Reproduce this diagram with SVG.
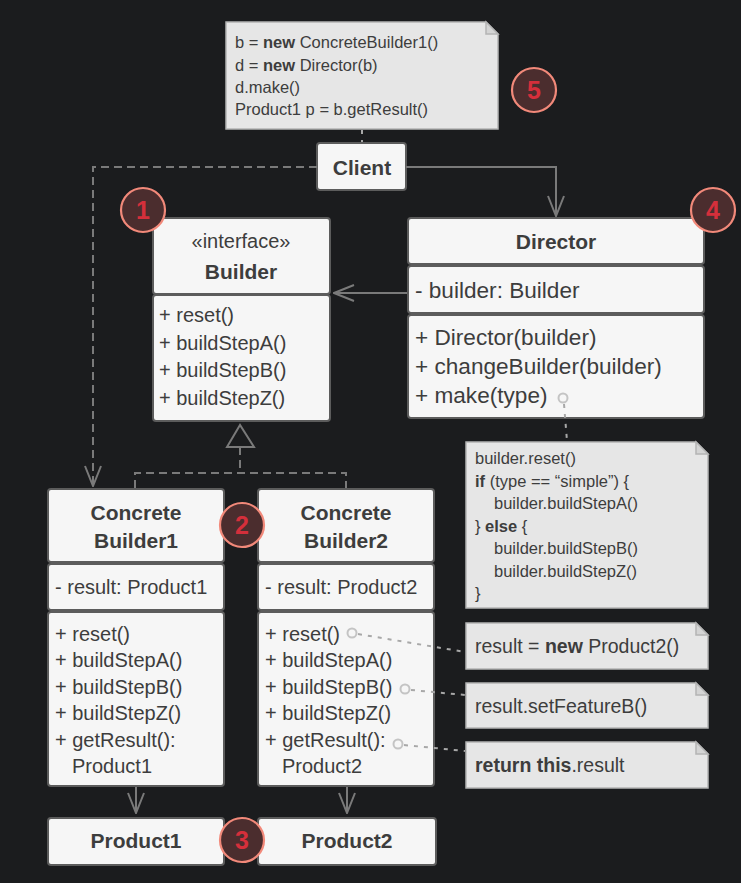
<svg xmlns="http://www.w3.org/2000/svg" width="741" height="883" viewBox="0 0 741 883">
<defs>
<style>
text{font-family:"Liberation Sans",Arial,sans-serif;fill:#3d3d3d}
.box{fill:#f6f6f6;stroke:#5c5c5c;stroke-width:2}
.note{fill:#e6e6e6;stroke:#b4b4b4;stroke-width:1.5}
.fold{fill:#d4d4d4;stroke:#b4b4b4;stroke-width:1.5}
.h{font-weight:bold;font-size:21px;text-anchor:middle}
.m{font-size:20px}
.md{font-size:22.6px}
.n{font-size:16.5px}
.nr{font-size:19.5px}
.b{font-weight:bold}
.line{stroke:#7a7a7a;stroke-width:2;fill:none}
.dash{stroke:#7a7a7a;stroke-width:2;fill:none;stroke-dasharray:8 5}
.dot{stroke:#a8a8a8;stroke-width:2;fill:none;stroke-dasharray:4 6}
.hole{fill:none;stroke:#c4c4c4;stroke-width:2}
.badge circle{fill:#4b2d2e;stroke:#f2897a;stroke-width:2.2}
.badge text{font-weight:bold;font-size:25px;fill:#d42f3b;text-anchor:middle}
</style>
<marker id="arr" viewBox="0 0 22 20" refX="21" refY="10" markerWidth="22" markerHeight="20" markerUnits="userSpaceOnUse" orient="auto">
<path d="M1,2 L21,10 L1,18" fill="none" stroke="#7a7a7a" stroke-width="2"/>
</marker>
</defs>
<rect width="741" height="883" fill="#1b1c1e"/>

<g id="note-client">
<path class="note" d="M226,22 H486 L498,34 V129 H226 Z"/>
<path class="fold" d="M486,22 V34 H498 Z"/>
<text class="n" x="235" y="48">b = <tspan class="b">new</tspan> ConcreteBuilder1()</text>
<text class="n" x="235" y="71">d = <tspan class="b">new</tspan> Director(b)</text>
<text class="n" x="235" y="93">d.make()</text>
<text class="n" x="235" y="115">Product1 p = b.getResult()</text>
</g>

<g id="client">
<rect class="box" x="317" y="143" width="89" height="47" rx="3"/>
<text class="h" x="362" y="175">Client</text>
</g>

<g id="builder">
<rect class="box" x="153" y="218" width="177" height="76" rx="3"/>
<rect class="box" x="153" y="295" width="177" height="126" rx="3"/>
<text x="241" y="248" font-size="20" text-anchor="middle">«interface»</text>
<text class="h" x="241" y="279">Builder</text>
<text class="m" x="159" y="322">+ reset()</text>
<text class="m" x="159" y="350">+ buildStepA()</text>
<text class="m" x="159" y="377">+ buildStepB()</text>
<text class="m" x="159" y="405">+ buildStepZ()</text>
</g>

<g id="director">
<rect class="box" x="408" y="218" width="296" height="46" rx="3"/>
<rect class="box" x="408" y="266" width="296" height="47" rx="3"/>
<rect class="box" x="408" y="315" width="296" height="103" rx="3"/>
<text class="h" x="556" y="249">Director</text>
<text class="md" x="415" y="298">- builder: Builder</text>
<text class="md" x="415" y="345">+ Director(builder)</text>
<text class="md" x="415" y="374">+ changeBuilder(builder)</text>
<text class="md" x="415" y="403">+ make(type)</text>
<circle class="hole" cx="563" cy="398" r="4.5"/>
</g>

<g id="note-make">
<path class="note" d="M466,442 H696 L708,454 V608 H466 Z"/>
<path class="fold" d="M696,442 V454 H708 Z"/>
<text class="n" x="475" y="464">builder.reset()</text>
<text class="n" x="475" y="487"><tspan class="b">if</tspan> (type == “simple”) {</text>
<text class="n" x="494" y="509">builder.buildStepA()</text>
<text class="n" x="475" y="532">} <tspan class="b">else</tspan> {</text>
<text class="n" x="494" y="554">builder.buildStepB()</text>
<text class="n" x="494" y="577">builder.buildStepZ()</text>
<text class="n" x="475" y="599">}</text>
</g>

<g id="concrete-builder1">
<rect class="box" x="48" y="489" width="176" height="73" rx="3"/>
<rect class="box" x="48" y="564" width="176" height="46" rx="3"/>
<rect class="box" x="48" y="612" width="176" height="174" rx="3"/>
<text class="h" x="136" y="520">Concrete</text>
<text class="h" x="136" y="548">Builder1</text>
<text class="m" x="55" y="594">- result: Product1</text>
<text class="m" x="55" y="641">+ reset()</text>
<text class="m" x="55" y="667">+ buildStepA()</text>
<text class="m" x="55" y="694">+ buildStepB()</text>
<text class="m" x="55" y="720">+ buildStepZ()</text>
<text class="m" x="55" y="747">+ getResult():</text>
<text class="m" x="72" y="773">Product1</text>
</g>

<g id="concrete-builder2">
<rect class="box" x="258" y="489" width="176" height="73" rx="3"/>
<rect class="box" x="258" y="564" width="176" height="46" rx="3"/>
<rect class="box" x="258" y="612" width="176" height="174" rx="3"/>
<text class="h" x="346" y="520">Concrete</text>
<text class="h" x="346" y="548">Builder2</text>
<text class="m" x="265" y="594">- result: Product2</text>
<text class="m" x="265" y="641">+ reset()</text>
<text class="m" x="265" y="667">+ buildStepA()</text>
<text class="m" x="265" y="694">+ buildStepB()</text>
<text class="m" x="265" y="720">+ buildStepZ()</text>
<text class="m" x="265" y="747">+ getResult():</text>
<text class="m" x="282" y="773">Product2</text>
<circle class="hole" cx="352" cy="633" r="4.5"/>
<circle class="hole" cx="405" cy="689" r="4.5"/>
<circle class="hole" cx="398" cy="744" r="4.5"/>
</g>

<g id="note-reset">
<path class="note" d="M466,623 H696 L708,635 V669 H466 Z"/>
<path class="fold" d="M696,623 V635 H708 Z"/>
<text class="nr" x="475" y="653">result = <tspan class="b">new</tspan> Product2()</text>
</g>
<g id="note-stepb">
<path class="note" d="M466,683 H696 L708,695 V728 H466 Z"/>
<path class="fold" d="M696,683 V695 H708 Z"/>
<text class="nr" x="475" y="713">result.setFeatureB()</text>
</g>
<g id="note-result">
<path class="note" d="M466,742 H696 L708,754 V788 H466 Z"/>
<path class="fold" d="M696,742 V754 H708 Z"/>
<text class="nr" x="475" y="772"><tspan class="b">return this</tspan>.result</text>
</g>

<g id="product1">
<rect class="box" x="48" y="818" width="176" height="47" rx="3"/>
<text class="h" x="136" y="848">Product1</text>
</g>
<g id="product2">
<rect class="box" x="258" y="818" width="178" height="47" rx="3"/>
<text class="h" x="347" y="848">Product2</text>
</g>

<g id="connectors">
<line class="dot" x1="362" y1="130" x2="362" y2="142"/>
<path class="dash" d="M317,167 H93 V486" marker-end="url(#arr)"/>
<path class="line" d="M406,167 H556 V216" marker-end="url(#arr)"/>
<line class="line" x1="407" y1="293" x2="334" y2="293" marker-end="url(#arr)"/>
<path class="line" d="M240,425 L227,447 H254 Z"/>
<path class="dash" d="M240,447 V473 M135,488 V473 H346 V488"/>
<line class="line" x1="136" y1="787" x2="136" y2="813" marker-end="url(#arr)"/>
<line class="line" x1="347" y1="787" x2="347" y2="813" marker-end="url(#arr)"/>
<line class="dot" x1="564" y1="404" x2="567" y2="441"/>
<line class="dot" x1="358" y1="634" x2="465" y2="652"/>
<line class="dot" x1="411" y1="690" x2="465" y2="695"/>
<line class="dot" x1="404" y1="745" x2="465" y2="751"/>
</g>

<g id="badges">
<g class="badge"><circle cx="143" cy="210" r="22"/><text x="143" y="219">1</text></g>
<g class="badge"><circle cx="242" cy="525" r="22"/><text x="242" y="534">2</text></g>
<g class="badge"><circle cx="242" cy="840" r="22"/><text x="242" y="849">3</text></g>
<g class="badge"><circle cx="713" cy="210" r="22"/><text x="713" y="219">4</text></g>
<g class="badge"><circle cx="534" cy="90" r="22"/><text x="534" y="99">5</text></g>
</g>
</svg>
